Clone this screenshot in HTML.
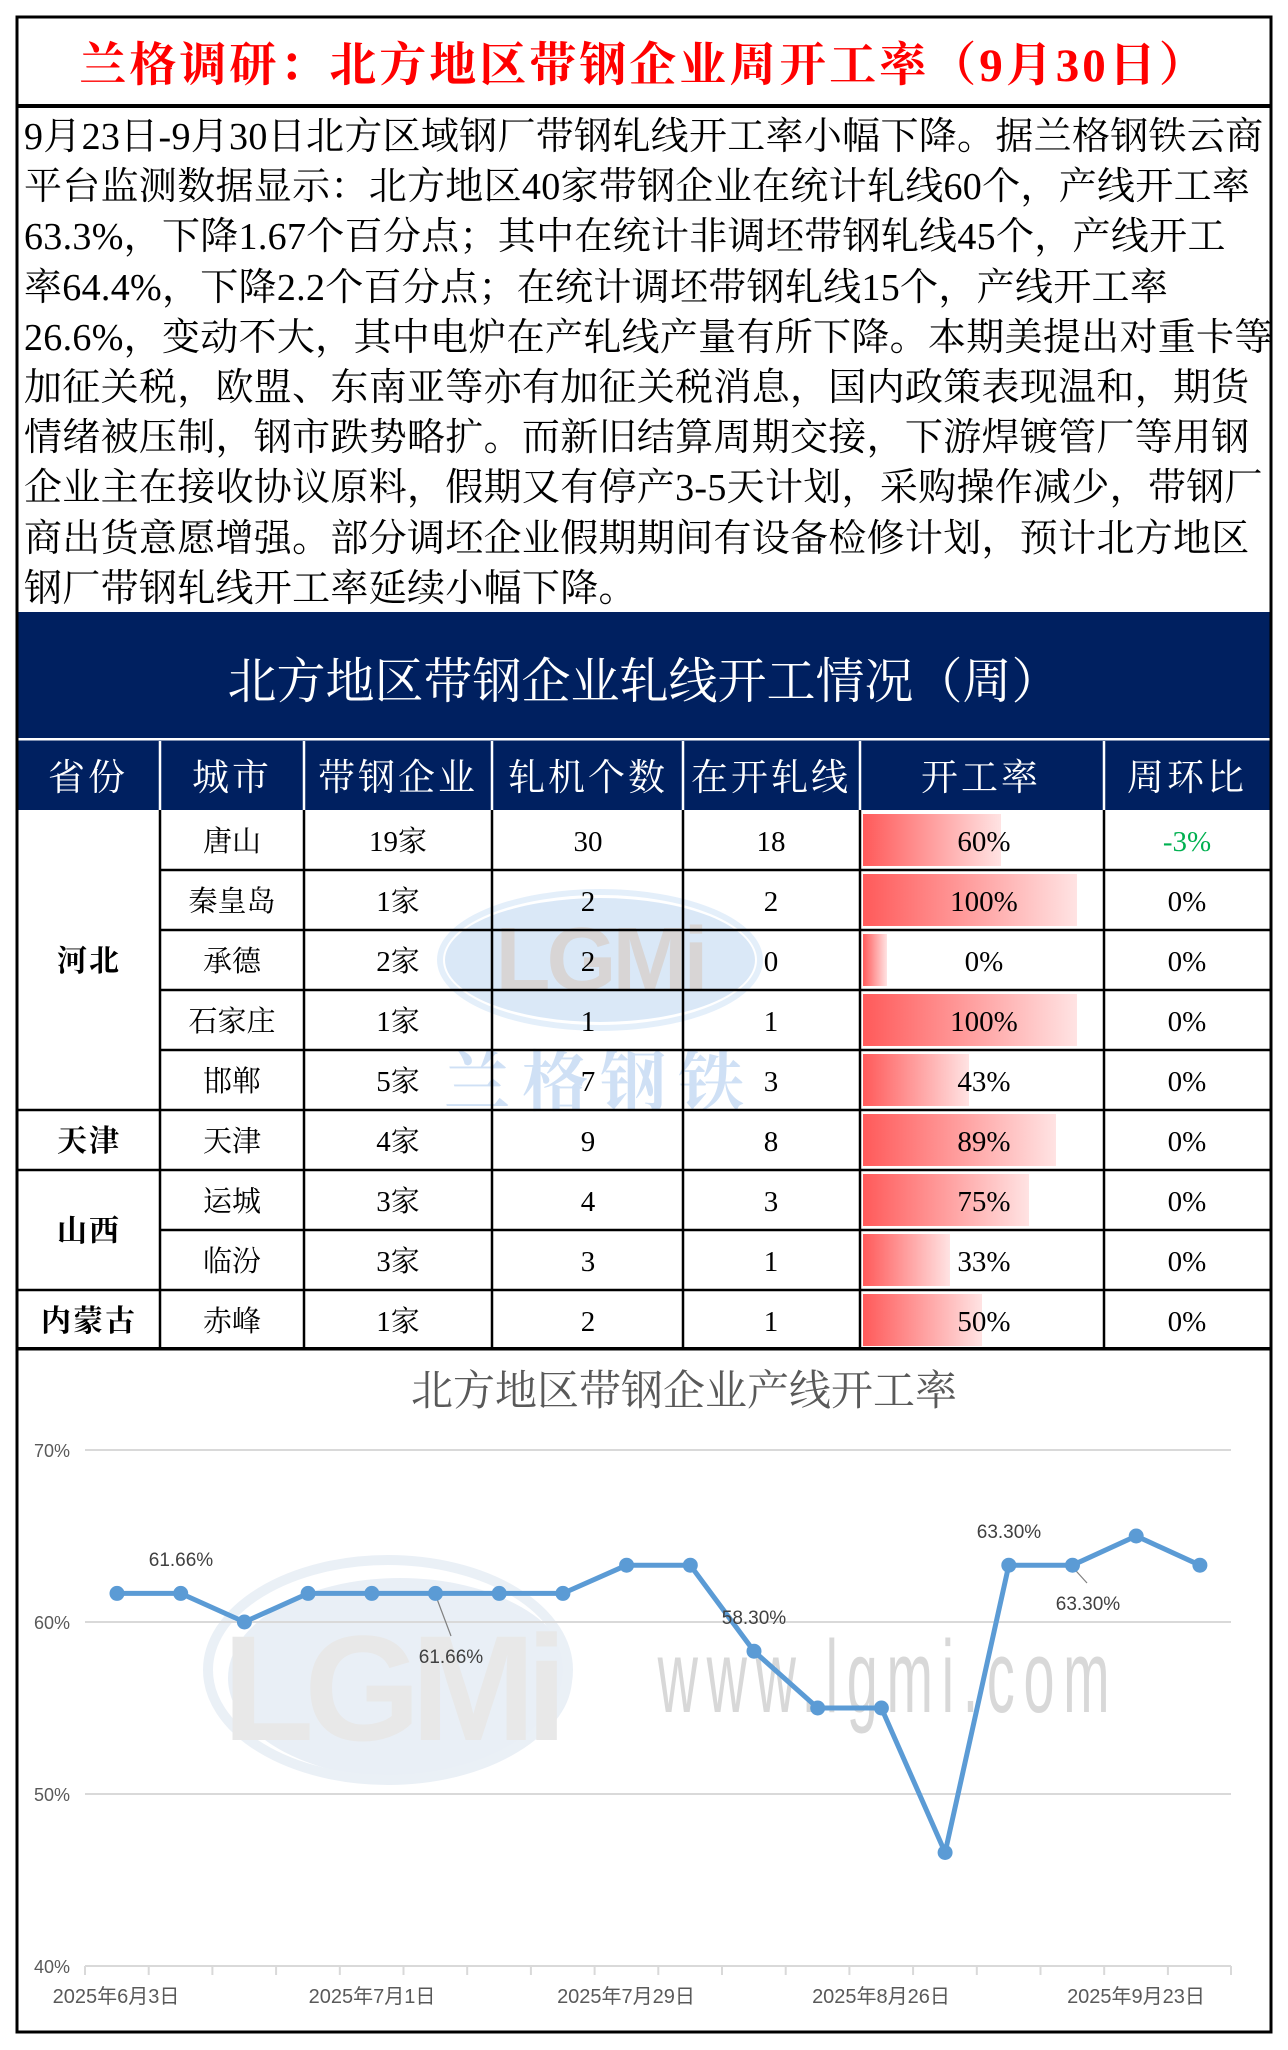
<!DOCTYPE html>
<html><head><meta charset="utf-8">
<style>
html,body{margin:0;padding:0;background:#fff;}
body{width:1288px;height:2050px;position:relative;overflow:hidden;}
.para{position:absolute;left:24px;top:112px;font-family:"Liberation Serif","Noto Serif CJK SC",serif;font-size:38px;line-height:50.2px;color:#000;white-space:nowrap;letter-spacing:0.3px;}
svg{position:absolute;left:0;top:0;}
</style></head><body>
<svg width="1288" height="2050" viewBox="0 0 1288 2050" xmlns="http://www.w3.org/2000/svg">
<defs>
<linearGradient id="bar" x1="0" x2="1" y1="0" y2="0">
<stop offset="0" stop-color="#ff5a5a"/><stop offset="1" stop-color="#ffe3e3"/>
</linearGradient>
</defs>
<text x="644" y="81" text-anchor="middle" font-family="Liberation Serif,'Noto Serif CJK SC',serif" font-weight="bold" font-size="47" fill="#ff0000" letter-spacing="3">兰格调研：北方地区带钢企业周开工率（9月30日）</text>
<rect x="16" y="104" width="1256" height="4" fill="#000"/>
<rect x="16" y="612" width="1256" height="198" fill="#002060"/>
<rect x="16" y="738" width="1256" height="2.5" fill="#fff"/>
<text x="644" y="698" text-anchor="middle" font-family="Liberation Serif,'Noto Serif CJK SC',serif" font-size="49" fill="#fff">北方地区带钢企业轧线开工情况（周）</text>
<g font-family="Liberation Serif,'Noto Serif CJK SC',serif" font-size="37" fill="#fff" text-anchor="middle" letter-spacing="3">
<text x="88" y="790">省份</text><text x="232" y="790">城市</text><text x="398" y="790">带钢企业</text><text x="588" y="790">轧机个数</text><text x="771" y="790">在开轧线</text><text x="981" y="790">开工率</text><text x="1187" y="790">周环比</text>
</g>
<g stroke="#fff" stroke-width="2.5">
<line x1="160" y1="741" x2="160" y2="810"/><line x1="304" y1="741" x2="304" y2="810"/><line x1="492" y1="741" x2="492" y2="810"/><line x1="683" y1="741" x2="683" y2="810"/><line x1="860" y1="741" x2="860" y2="810"/><line x1="1104" y1="741" x2="1104" y2="810"/>
</g>
<g opacity="0.55">
<ellipse cx="600" cy="960" rx="155" ry="62" fill="#bcd6f2"/>
<ellipse cx="600" cy="960" rx="160" ry="68" fill="none" stroke="#cfe2f7" stroke-width="6"/>
<text x="600" y="990" text-anchor="middle" font-family="Liberation Sans,sans-serif" font-weight="bold" font-size="90" fill="#b9b4b4" letter-spacing="-4">LGMi</text>
<text x="600" y="1105" text-anchor="middle" font-family="'Noto Serif CJK SC',serif" font-weight="bold" font-size="66" fill="#a8c8ee" letter-spacing="12">兰格钢铁</text>
</g>
<g fill="url(#bar)">
<rect x="863" y="814" width="138" height="52"/>
<rect x="863" y="874" width="214" height="52"/>
<rect x="863" y="934" width="24" height="52"/>
<rect x="863" y="994" width="214" height="52"/>
<rect x="863" y="1054" width="106" height="52"/>
<rect x="863" y="1114" width="193" height="52"/>
<rect x="863" y="1174" width="166" height="52"/>
<rect x="863" y="1234" width="87" height="52"/>
<rect x="863" y="1294" width="119" height="52"/>
</g>
<g stroke="#000" stroke-width="2.5">
<line x1="160" y1="870" x2="1272" y2="870"/><line x1="160" y1="930" x2="1272" y2="930"/><line x1="160" y1="990" x2="1272" y2="990"/><line x1="160" y1="1050" x2="1272" y2="1050"/>
<line x1="16" y1="1110" x2="1272" y2="1110"/><line x1="16" y1="1170" x2="1272" y2="1170"/><line x1="160" y1="1230" x2="1272" y2="1230"/><line x1="16" y1="1290" x2="1272" y2="1290"/>
<line x1="160" y1="810" x2="160" y2="1349"/><line x1="304" y1="810" x2="304" y2="1349"/><line x1="492" y1="810" x2="492" y2="1349"/><line x1="683" y1="810" x2="683" y2="1349"/><line x1="860" y1="810" x2="860" y2="1349"/><line x1="1104" y1="810" x2="1104" y2="1349"/>
</g>
<rect x="16" y="1347" width="1256" height="3.5" fill="#000"/>
<g font-family="Liberation Serif,'Noto Serif CJK SC',serif" font-weight="bold" font-size="30" fill="#000" text-anchor="middle" letter-spacing="2">
<text x="89" y="971">河北</text><text x="89" y="1151">天津</text><text x="89" y="1241">山西</text><text x="89" y="1331">内蒙古</text>
</g>
<g font-family="Liberation Serif,'Noto Serif CJK SC',serif" font-size="29" fill="#000" text-anchor="middle">
<text x="232" y="851">唐山</text><text x="398" y="851">19家</text><text x="588" y="851">30</text><text x="771" y="851">18</text><text x="984" y="851">60%</text><text x="1187" y="851" fill="#00b050">-3%</text>
<text x="232" y="911">秦皇岛</text><text x="398" y="911">1家</text><text x="588" y="911">2</text><text x="771" y="911">2</text><text x="984" y="911">100%</text><text x="1187" y="911">0%</text>
<text x="232" y="971">承德</text><text x="398" y="971">2家</text><text x="588" y="971">2</text><text x="771" y="971">0</text><text x="984" y="971">0%</text><text x="1187" y="971">0%</text>
<text x="232" y="1031">石家庄</text><text x="398" y="1031">1家</text><text x="588" y="1031">1</text><text x="771" y="1031">1</text><text x="984" y="1031">100%</text><text x="1187" y="1031">0%</text>
<text x="232" y="1091">邯郸</text><text x="398" y="1091">5家</text><text x="588" y="1091">7</text><text x="771" y="1091">3</text><text x="984" y="1091">43%</text><text x="1187" y="1091">0%</text>
<text x="232" y="1151">天津</text><text x="398" y="1151">4家</text><text x="588" y="1151">9</text><text x="771" y="1151">8</text><text x="984" y="1151">89%</text><text x="1187" y="1151">0%</text>
<text x="232" y="1211">运城</text><text x="398" y="1211">3家</text><text x="588" y="1211">4</text><text x="771" y="1211">3</text><text x="984" y="1211">75%</text><text x="1187" y="1211">0%</text>
<text x="232" y="1271">临汾</text><text x="398" y="1271">3家</text><text x="588" y="1271">3</text><text x="771" y="1271">1</text><text x="984" y="1271">33%</text><text x="1187" y="1271">0%</text>
<text x="232" y="1331">赤峰</text><text x="398" y="1331">1家</text><text x="588" y="1331">2</text><text x="771" y="1331">1</text><text x="984" y="1331">50%</text><text x="1187" y="1331">0%</text>
</g>
<text x="684" y="1405" text-anchor="middle" font-family="Liberation Sans,'Noto Serif CJK SC',serif" font-size="42" fill="#595959">北方地区带钢企业产线开工率</text>
<g opacity="0.6">
<ellipse cx="400" cy="1678" rx="172" ry="100" fill="#dbe5f1"/>
<ellipse cx="388" cy="1670" rx="180" ry="110" fill="none" stroke="#dde6f1" stroke-width="10"/>
<text x="390" y="1740" text-anchor="middle" font-family="Liberation Sans,sans-serif" font-weight="bold" font-size="150" fill="#d9d9d9" letter-spacing="-10">LGMi</text>
<text x="888" y="1712" text-anchor="middle" font-family="Liberation Sans,sans-serif" font-size="90" fill="#bfbfbf" transform="translate(888 1712) scale(0.62 1.15) translate(-888 -1712)" letter-spacing="14">www.lgmi.com</text>
</g>
<g stroke="#d9d9d9" stroke-width="2">
<line x1="85" y1="1450" x2="1231" y2="1450"/><line x1="85" y1="1622" x2="1231" y2="1622"/><line x1="85" y1="1794" x2="1231" y2="1794"/><line x1="85" y1="1966" x2="1231" y2="1966"/>
<path d="M85 1966v9M148.7 1966v9M212.4 1966v9M276.1 1966v9M339.8 1966v9M403.5 1966v9M467.2 1966v9M530.9 1966v9M594.6 1966v9M658.3 1966v9M722 1966v9M785.7 1966v9M849.4 1966v9M913.1 1966v9M976.8 1966v9M1040.5 1966v9M1104.2 1966v9M1167.9 1966v9M1231 1966v9"/>
</g>
<g font-family="Liberation Sans,sans-serif" font-size="18" fill="#595959" text-anchor="end">
<text x="70" y="1457">70%</text><text x="70" y="1629">60%</text><text x="70" y="1801">50%</text><text x="70" y="1973">40%</text>
</g>
<g font-family="Liberation Sans,'Noto Sans CJK SC',sans-serif" font-size="20" fill="#595959" text-anchor="middle">
<text x="116" y="2003">2025年6月3日</text><text x="372" y="2003">2025年7月1日</text><text x="626" y="2003">2025年7月29日</text><text x="881" y="2003">2025年8月26日</text><text x="1136" y="2003">2025年9月23日</text>
</g>
<g stroke="#808080" stroke-width="1.2">
<line x1="435.5" y1="1595" x2="451" y2="1636"/><line x1="1072.5" y1="1567" x2="1087" y2="1583"/>
</g>
<polyline fill="none" stroke="#5b9bd5" stroke-width="5" stroke-linejoin="round" points="117,1593.4 180.7,1593.4 244.4,1622 308.1,1593.4 371.8,1593.4 435.5,1593.4 499.2,1593.4 562.9,1593.4 626.6,1565.2 690.3,1565.2 754,1651.2 817.7,1708 881.4,1708 945.1,1852.5 1008.8,1565.2 1072.5,1565.2 1136.2,1536 1199.9,1565.2"/>
<g fill="#5b9bd5">
<circle cx="117" cy="1593.4" r="7.5"/><circle cx="180.7" cy="1593.4" r="7.5"/><circle cx="244.4" cy="1622" r="7.5"/><circle cx="308.1" cy="1593.4" r="7.5"/><circle cx="371.8" cy="1593.4" r="7.5"/><circle cx="435.5" cy="1593.4" r="7.5"/><circle cx="499.2" cy="1593.4" r="7.5"/><circle cx="562.9" cy="1593.4" r="7.5"/><circle cx="626.6" cy="1565.2" r="7.5"/><circle cx="690.3" cy="1565.2" r="7.5"/><circle cx="754" cy="1651.2" r="7.5"/><circle cx="817.7" cy="1708" r="7.5"/><circle cx="881.4" cy="1708" r="7.5"/><circle cx="945.1" cy="1852.5" r="7.5"/><circle cx="1008.8" cy="1565.2" r="7.5"/><circle cx="1072.5" cy="1565.2" r="7.5"/><circle cx="1136.2" cy="1536" r="7.5"/><circle cx="1199.9" cy="1565.2" r="7.5"/>
</g>
<g font-family="Liberation Sans,sans-serif" font-size="19" fill="#404040" text-anchor="middle">
<text x="181" y="1566">61.66%</text><text x="451" y="1663">61.66%</text><text x="754" y="1624">58.30%</text><text x="1009" y="1538">63.30%</text><text x="1088" y="1610">63.30%</text>
</g>
<rect x="17" y="17" width="1254" height="2015" fill="none" stroke="#000" stroke-width="3"/>
</svg>
<div class="para">
<div>9月23日-9月30日北方区域钢厂带钢轧线开工率小幅下降。据兰格钢铁云商</div>
<div>平台监测数据显示：北方地区40家带钢企业在统计轧线60个，产线开工率</div>
<div>63.3%，下降1.67个百分点；其中在统计非调坯带钢轧线45个，产线开工</div>
<div>率64.4%，下降2.2个百分点；在统计调坯带钢轧线15个，产线开工率</div>
<div>26.6%，变动不大，其中电炉在产轧线产量有所下降。本期美提出对重卡等</div>
<div>加征关税，欧盟、东南亚等亦有加征关税消息，国内政策表现温和，期货</div>
<div>情绪被压制，钢市跌势略扩。而新旧结算周期交接，下游焊镀管厂等用钢</div>
<div>企业主在接收协议原料，假期又有停产3-5天计划，采购操作减少，带钢厂</div>
<div>商出货意愿增强。部分调坯企业假期期间有设备检修计划，预计北方地区</div>
<div>钢厂带钢轧线开工率延续小幅下降。</div>
</div>
</body></html>
